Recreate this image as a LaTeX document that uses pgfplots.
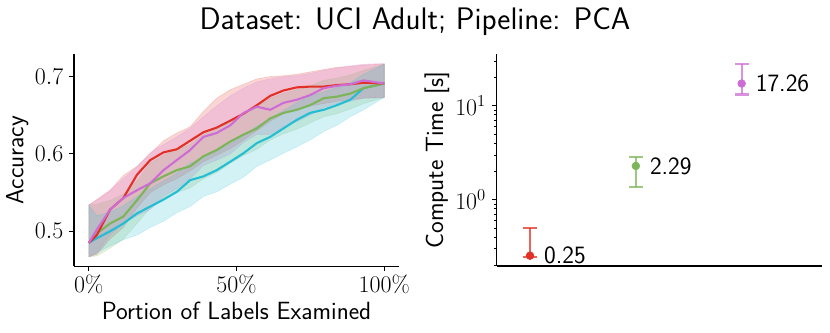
\documentclass[border=0pt]{standalone}
\usepackage{fontspec}
\usepackage{pgfplots}
\pgfplotsset{compat=1.18}
\usepackage{pgfplotstable}
\renewcommand{\familydefault}{\sfdefault}
\definecolor{cred}{RGB}{227,48,38}
\definecolor{cgreen}{RGB}{124,181,88}
\definecolor{cpurple}{RGB}{206,108,214}
\definecolor{ccyan}{RGB}{34,190,212}

\pgfplotstableread{
x rm gm pm cm
0 .485 .485 .485 .485
2.7 .495 .497 .502 .491
7.2 .528 .510 .528 .500
11.7 .543 .519 .543 .510
16.3 .573 .540 .553 .523
20.8 .592 .562 .562 .532
25.3 .602 .571 .579 .541
29.8 .606 .579 .592 .551
34.3 .617 .584 .605 .566
38.8 .628 .597 .622 .571
43.3 .634 .605 .627 .579
47.9 .643 .616 .637 .590
52.4 .652 .625 .653 .601
56.9 .663 .633 .661 .614
61.4 .675 .646 .657 .622
65.9 .682 .653 .666 .633
70.4 .686 .657 .670 .644
74.9 .687 .663 .676 .653
79.5 .687 .672 .685 .657
84.0 .689 .674 .688 .663
88.5 .690 .678 .690 .670
93.0 .692 .685 .695 .685
100 .691 .691 .691 .691
}\accdata

\begin{document}
\fontsize{18}{21}\selectfont
\begin{tikzpicture}[font=\fontsize{18}{21}\selectfont]
\path[use as bounding box] (0,0) rectangle (597.6bp,239.76bp);
\node[font=\fontsize{22.5}{26}\selectfont] at (298.8bp,223.9bp) {Dataset: UCI Adult; Pipeline: PCA};
\pgfplotsset{every axis/.append style={
  scale only axis, width=234bp, height=152.6bp,
  axis x line*=bottom, axis y line*=left,
  tick align=outside, major tick length=3.5bp, minor tick length=2bp,
  every tick/.style={black, line width=0.8bp},
  minor tick style={line width=0.6bp},
  axis line style={line width=0.8bp, black},
  tick label style={font=\fontsize{17}{20}\selectfont},
  label style={font=\fontsize{18}{21}\selectfont},
  xticklabel style={yshift=3bp},
  yticklabel style={xshift=2bp},
}}
\begin{axis}[at={(53.3bp,48.2bp)}, anchor=south west,
  xmin=-5, xmax=105, ymin=0.455, ymax=0.729,
  xtick={0,50,100}, xticklabels={$0\%$,$50\%$,$100\%$},
  ytick={0.5,0.6,0.7}, yticklabels={$0.5$,$0.6$,$0.7$},
  xlabel={Portion of Labels Examined}, ylabel={Accuracy},
  xlabel style={at={(axis description cs:0.5,-0.25)}, anchor=base},
  ylabel style={at={(axis description cs:-0.175,0.5)}, anchor=center},
]
\addplot[fill=cred, fill opacity=0.2, draw=cred, draw opacity=0.2] coordinates {
(0,.534)(2.7,.541)(7.2,.553)(11.7,.572)(16.3,.584)(20.8,.600)(25.3,.617)(29.8,.627)(34.3,.635)(38.8,.655)(43.3,.672)(47.9,.683)(52.4,.690)(56.9,.697)(61.4,.700)(65.9,.701)(70.4,.703)(74.9,.706)(79.5,.709)(84.0,.712)(88.5,.713)(93.0,.715)(100,.716)
(100,.673)(93.0,.672)(88.5,.670)(84.0,.668)(79.5,.665)(74.9,.662)(70.4,.658)(65.9,.652)(61.4,.642)(56.9,.630)(52.4,.618)(47.9,.607)(43.3,.598)(38.8,.590)(34.3,.578)(29.8,.568)(25.3,.560)(20.8,.550)(16.3,.530)(11.7,.505)(7.2,.490)(2.7,.470)(0,.467)
} -- cycle;
\addplot[fill=cgreen, fill opacity=0.2, draw=cgreen, draw opacity=0.2] coordinates {
(0,.534)(2.7,.535)(7.2,.540)(11.7,.548)(16.3,.565)(20.8,.588)(25.3,.598)(29.8,.606)(34.3,.612)(38.8,.625)(43.3,.633)(47.9,.643)(52.4,.652)(56.9,.660)(61.4,.672)(65.9,.678)(70.4,.683)(74.9,.688)(79.5,.695)(84.0,.698)(88.5,.702)(93.0,.708)(100,.716)
(100,.673)(93.0,.665)(88.5,.658)(84.0,.652)(79.5,.648)(74.9,.640)(70.4,.632)(65.9,.626)(61.4,.618)(56.9,.606)(52.4,.598)(47.9,.588)(43.3,.576)(38.8,.568)(34.3,.556)(29.8,.550)(25.3,.540)(20.8,.530)(16.3,.510)(11.7,.490)(7.2,.478)(2.7,.468)(0,.467)
} -- cycle;
\addplot[fill=cpurple, fill opacity=0.2, draw=cpurple, draw opacity=0.2] coordinates {
(0,.534)(2.7,.540)(7.2,.552)(11.7,.568)(16.3,.583)(20.8,.602)(25.3,.612)(29.8,.622)(34.3,.633)(38.8,.648)(43.3,.662)(47.9,.675)(52.4,.685)(56.9,.693)(61.4,.697)(65.9,.700)(70.4,.701)(74.9,.704)(79.5,.708)(84.0,.711)(88.5,.714)(93.0,.716)(100,.717)
(100,.673)(93.0,.672)(88.5,.668)(84.0,.665)(79.5,.660)(74.9,.650)(70.4,.642)(65.9,.635)(61.4,.625)(56.9,.625)(52.4,.615)(47.9,.600)(43.3,.592)(38.8,.585)(34.3,.568)(29.8,.555)(25.3,.545)(20.8,.528)(16.3,.520)(11.7,.510)(7.2,.495)(2.7,.472)(0,.467)
} -- cycle;
\addplot[fill=ccyan, fill opacity=0.2, draw=ccyan, draw opacity=0.2] coordinates {
(0,.534)(2.7,.520)(7.2,.525)(11.7,.533)(16.3,.545)(20.8,.555)(25.3,.565)(29.8,.575)(34.3,.588)(38.8,.595)(43.3,.603)(47.9,.613)(52.4,.624)(56.9,.636)(61.4,.645)(65.9,.656)(70.4,.666)(74.9,.675)(79.5,.680)(84.0,.686)(88.5,.692)(93.0,.703)(100,.716)
(100,.673)(93.0,.657)(88.5,.648)(84.0,.637)(79.5,.629)(74.9,.618)(70.4,.609)(65.9,.601)(61.4,.592)(56.9,.584)(52.4,.570)(47.9,.561)(43.3,.551)(38.8,.545)(34.3,.532)(29.8,.524)(25.3,.513)(20.8,.505)(16.3,.495)(11.7,.489)(7.2,.481)(2.7,.472)(0,.467)
} -- cycle;
\addplot[ccyan, line width=1.5bp] table[x=x,y=cm]{\accdata};
\addplot[cgreen, line width=1.5bp] table[x=x,y=gm]{\accdata};
\addplot[cred, line width=1.5bp] table[x=x,y=rm]{\accdata};
\addplot[cpurple, line width=1.5bp] table[x=x,y=pm]{\accdata};
\end{axis}

\begin{axis}[at={(357.6bp,48.2bp)}, anchor=south west,
  ymode=log, xmin=-0.315, xmax=2.756, ymin=0.197, ymax=35.5,
  xtick=\empty, ylabel={Compute Time [s]},
  ylabel style={at={(axis description cs:-0.1838,0.5)}, anchor=center},
  nodes near coords style={anchor=west, inner sep=0pt, xshift=10bp, black, font=\fontsize{18}{21}\selectfont},
]
\addplot[cred, opacity=0.75, line width=1.5bp, mark=-, mark size=5bp, mark options={line width=1.5bp}] coordinates {(0,0.247) (0,0.503)};
\addplot[cgreen, opacity=0.75, line width=1.5bp, mark=-, mark size=5bp, mark options={line width=1.5bp}] coordinates {(1,1.36) (1,2.87)};
\addplot[cpurple, opacity=0.75, line width=1.5bp, mark=-, mark size=5bp, mark options={line width=1.5bp}] coordinates {(2,13.2) (2,27.8)};
\addplot[only marks, mark=*, mark size=2.8bp, cred, nodes near coords, point meta=explicit symbolic] coordinates {(0,0.254) [0.25]};
\addplot[only marks, mark=*, mark size=2.8bp, cgreen, nodes near coords, point meta=explicit symbolic] coordinates {(1,2.29) [2.29]};
\addplot[only marks, mark=*, mark size=2.8bp, cpurple, nodes near coords, point meta=explicit symbolic] coordinates {(2,17.26) [17.26]};
\end{axis}
\end{tikzpicture}
\end{document}
